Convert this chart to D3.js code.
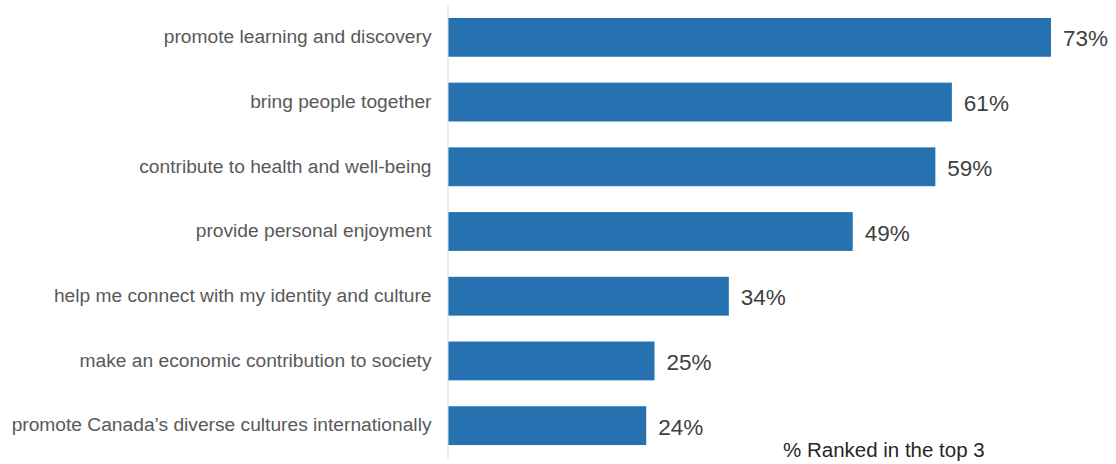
<!DOCTYPE html>
<html>
<head>
<meta charset="utf-8">
<script src="https://cdn.jsdelivr.net/npm/d3@7/dist/d3.min.js"></script>
<style>
  html, body { margin: 0; padding: 0; background: #ffffff; }
  svg { display: block; font-family: Arial, "Liberation Sans", sans-serif; }
</style>
</head>
<body>
<svg id="chart" width="1116" height="464"></svg>
<script>
// Reasons ranked among the top 3
const categories = [
  "promote learning and discovery",
  "bring people together",
  "contribute to health and well-being",
  "provide personal enjoyment",
  "help me connect with my identity and culture",
  "make an economic contribution to society",
  "promote Canada\u2019s diverse cultures internationally"
];
const values = [73, 61, 59, 49, 34, 25, 24];
const axisTitle = "% Ranked in the top 3";

const svg = d3.select("#chart");

const x = d3.scaleLinear().domain([0, 100]).range([448, 1274]);
const y = d3.scaleBand()
  .domain(categories)
  .range([5, 458])
  .paddingInner(0.4)
  .paddingOuter(0.2);

const rows = categories.map((c, i) => ({ cat: c, val: values[i] }));

// bars
svg.append("g").selectAll("rect")
  .data(rows)
  .join("rect")
  .attr("x", x(0))
  .attr("y", d => y(d.cat))
  .attr("width", d => x(d.val) - x(0))
  .attr("height", y.bandwidth())
  .attr("fill", "#2672b0");

// vertical category axis (line only, labels drawn on the left)
const yAxis = svg.append("g")
  .attr("transform", `translate(${x(0) - 0.5},0)`)
  .call(d3.axisLeft(y).tickSize(0).tickPadding(16).tickSizeOuter(0));
yAxis.select(".domain").attr("stroke", "#d9d9d9").attr("stroke-width", 1);
yAxis.selectAll(".tick text")
  .attr("font-size", "19.2px")
  .attr("font-family", "Arial, 'Liberation Sans', sans-serif")
  .attr("fill", "#595959")
  .attr("dy", "0.3em");

// value labels
svg.append("g").selectAll("text")
  .data(rows)
  .join("text")
  .attr("x", d => x(d.val) + 12)
  .attr("y", d => y(d.cat) + y.bandwidth() / 2)
  .attr("dy", "0.4em")
  .attr("font-size", "22.5px")
  .attr("fill", "#404040")
  .text(d => d.val + "%");

// axis title
svg.append("text")
  .attr("x", 783)
  .attr("y", 457)
  .attr("font-size", "20.5px")
  .attr("fill", "#262626")
  .text(axisTitle);
</script>
</body>
</html>
